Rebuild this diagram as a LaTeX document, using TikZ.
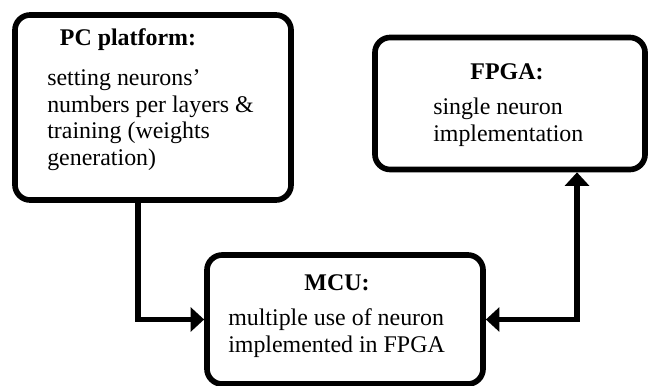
\documentclass[tikz,border=0pt]{standalone}
\usepackage{fontspec}
\setmainfont{Liberation Serif}
\usepackage{tikz}
\usetikzlibrary{positioning}
\usetikzlibrary{arrows.meta}
\tikzset{>={Triangle[width=0.6cm,length=0.34cm]}}
\tikzset{
  blockbox/.style={draw, line width=4pt, rounded corners=0.38cm, inner sep=0pt},
  headtext/.style={font=\fontsize{17}{19}\selectfont\bfseries, inner sep=0pt},
  bodytext/.style={font=\fontsize{17}{19}\selectfont, align=left, inner sep=0pt, anchor=west},
  link/.style={line width=4pt}
}

\begin{document}
\begin{tikzpicture}[x=0.025cm, y=-0.025cm]
\useasboundingbox (0,0) rectangle (648,386);

% ---------------- PC platform ----------------
\node[blockbox, minimum width=6.9cm, minimum height=4.625cm] (pc) at (153,107.5) {};
\node[headtext] (pctitle) at (128,40) {PC platform:};
\node[bodytext] (pcbody) at (47,120)
  {setting neurons'\\numbers per layers \&\\training (weights\\generation)};

% ---------------- FPGA ----------------
\node[blockbox, minimum width=6.75cm, minimum height=3.3cm] (fpga) at (510,103.5) {};
\node[headtext] (fpgatitle) at (507,72) {FPGA:};
\node[bodytext] (fpgabody) at (433,122) {single neuron\\ implementation};

% ---------------- MCU ----------------
\node[blockbox, minimum width=6.9cm, minimum height=3.225cm] (mcu) at (345,319.5) {};
\node[headtext] (mcutitle) at (337,283) {MCU:};
\node[bodytext] (mcubody) at (228,333) {multiple use of neuron\\implemented in FPGA};

% ---------------- Connectors ----------------
\draw[link, ->] ([xshift=-0.375cm]pc.south) |- (mcu.west);
\draw[link, <->] ([xshift=1.675cm]fpga.south) |- (mcu.east);

\end{tikzpicture}
\end{document}
